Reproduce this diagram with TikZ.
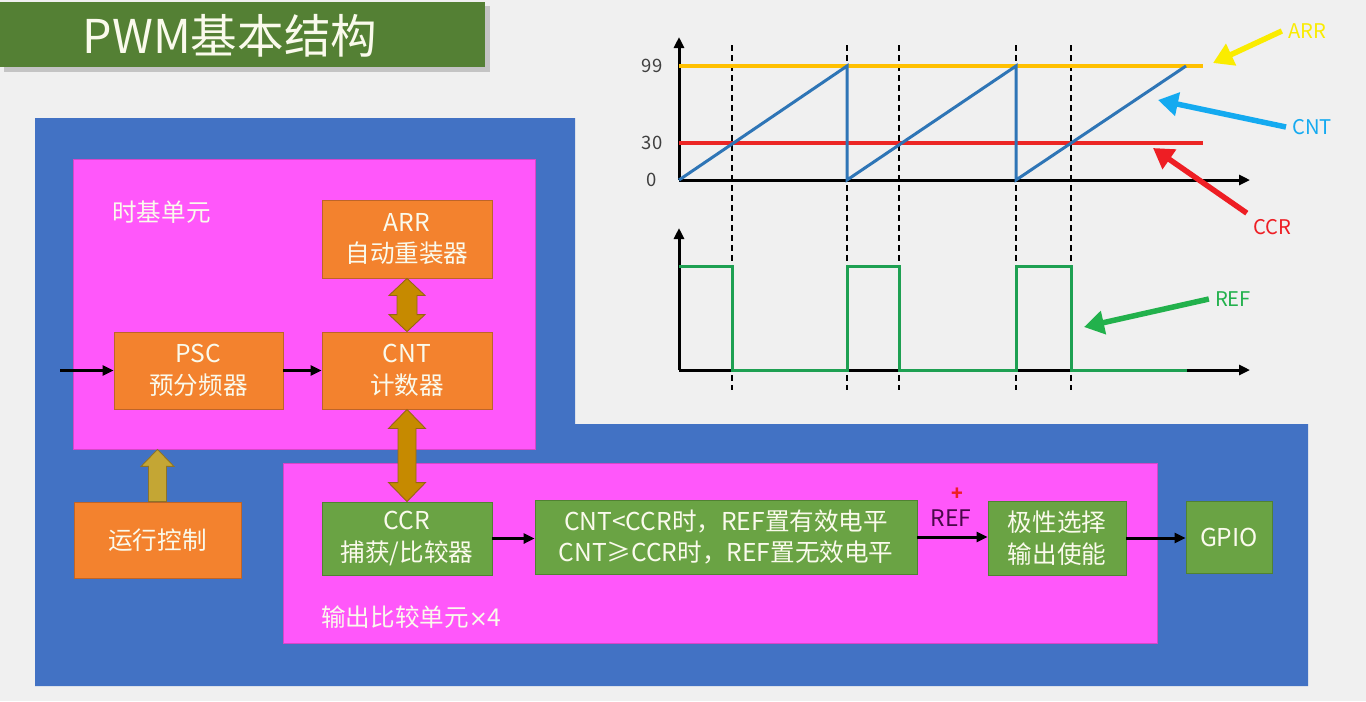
\documentclass[tikz,border=0pt]{standalone}
\usepackage{fontspec}
\setmainfont{Noto Sans CJK SC}
\newfontfamily\symfont{DejaVu Sans}
\usetikzlibrary{arrows.meta,calc}

\definecolor{bggray}{RGB}{240,240,240}
\definecolor{titlegreen}{RGB}{84,128,52}
\definecolor{outerblue}{RGB}{66,114,196}
\definecolor{unitpink}{RGB}{255,87,250}
\definecolor{unitline}{RGB}{215,70,200}
\definecolor{orangefill}{RGB}{243,130,46}
\definecolor{orangeline}{RGB}{190,100,40}
\definecolor{greenfill}{RGB}{106,163,68}
\definecolor{greenline}{RGB}{80,130,50}
\definecolor{boxtext}{RGB}{250,250,236}
\definecolor{fatbrown}{RGB}{198,138,0}
\definecolor{fatbrownline}{RGB}{150,100,20}
\definecolor{runolive}{RGB}{196,166,52}
\definecolor{runoliveline}{RGB}{140,115,40}
\definecolor{arrcolor}{RGB}{255,192,0}
\definecolor{ccrcolor}{RGB}{236,38,36}
\definecolor{cntcolor}{RGB}{46,117,182}
\definecolor{refcolor}{RGB}{30,160,82}
\definecolor{arrnote}{RGB}{250,236,0}
\definecolor{cntnote}{RGB}{20,170,240}
\definecolor{ccrnote}{RGB}{238,30,36}
\definecolor{refnote}{RGB}{34,177,76}
\definecolor{refpurple}{RGB}{72,8,72}
\definecolor{labelgray}{RGB}{64,64,64}

\tikzset{
  obox/.style={draw=orangeline, fill=orangefill, text=boxtext, align=center,
    font=\fontsize{14}{18}\selectfont, line width=0.5pt},
  gbox/.style={draw=greenline, fill=greenfill, text=boxtext, align=center,
    font=\fontsize{14}{18}\selectfont, line width=0.5pt},
  unit/.style={draw=unitline, fill=unitpink, line width=0.5pt},
  unitlabel/.style={anchor=west, text=boxtext, font=\fontsize{14}{17}\selectfont},
  link/.style={-{Triangle[length=0.22cm,width=0.2cm]}, line width=0.06cm},
  axis/.style={-{Triangle[length=0.22cm,width=0.2cm]}, line width=0.06cm},
  guide/.style={dashed, line width=0.03cm, dash pattern=on 0.12cm off 0.08cm},
  annot/.style={-{Triangle[length=0.4cm,width=0.46cm]}, line width=0.11cm},
  notelabel/.style={font=\fontsize{11.5}{13}\selectfont},
  ticklabel/.style={font=\fontsize{10.5}{12}\selectfont, text=labelgray},
}

\begin{document}
\begin{tikzpicture}[x=0.02cm, y=-0.02cm]
  \useasboundingbox (0,0) rectangle (1366,701);
  \fill[bggray] (0,0) rectangle (1366,701);

  % title
  \fill[black, opacity=0.18] (4,6) rectangle (490,72);
  \fill[titlegreen] (0,2) rectangle (485,67);
  \node[text=boxtext, font=\fontsize{26.5}{30}\selectfont] (title) at (230,36) {PWM基本结构};

  % outer block
  \fill[outerblue] (35,118) -- (575,118) -- (575,424) -- (1308,424)
    -- (1308,686) -- (35,686) -- cycle;

  % units
  \node[unit, minimum width=9.24cm, minimum height=5.8cm] (tbunit) at (304,304) {};
  \node[unit, minimum width=17.5cm, minimum height=3.6cm] (ocunit) at (720.5,553) {};
  \node[unitlabel] (tblabel) at (106,212) {时基单元};
  \node[unitlabel] (oclabel) at (315,617) {输出比较单元{\symfont\fontsize{13}{17}\selectfont ×}4};

  % blocks
  \node[obox, minimum width=3.4cm, minimum height=1.56cm] (arr) at (407,239) {ARR\\自动重装器};
  \node[obox, minimum width=3.38cm, minimum height=1.54cm] (psc) at (198.5,370.5) {PSC\\预分频器};
  \node[obox, minimum width=3.4cm, minimum height=1.54cm] (cnt) at (407,370.5) {CNT\\计数器};
  \node[obox, minimum width=3.34cm, minimum height=1.52cm] (run) at (157.5,540) {运行控制};
  \node[gbox, minimum width=3.4cm, minimum height=1.46cm] (ccr) at (407,538.5) {CCR\\捕获/比较器};
  \node[gbox, minimum width=7.64cm, minimum height=1.48cm] (cond) at (726,537)
    {CNT<CCR时，REF置有效电平\\CNT≥CCR时，REF置无效电平};
  \node[gbox, minimum width=2.76cm, minimum height=1.48cm] (pol) at (1057,538) {极性选择\\输出使能};
  \node[gbox, minimum width=1.72cm, minimum height=1.44cm] (gpio) at (1229,537) {GPIO};

  % connections
  \coordinate (clkin) at (60,370.5);
  \draw[link] (clkin) -- (psc.west);
  \draw[link] (psc) -- (cnt);
  \draw[link] (ccr.east) -- (ccr.east -| cond.west);
  \draw[link] (cond.east) -- (cond.east -| pol.west);
  \draw[link] (pol.east) -- (pol.east -| gpio.west);
  \node[text=refpurple, font=\fontsize{13}{15}\selectfont] (reflbl) at (951,518) {REF};
  \node[text=ccrnote, font=\fontsize{11}{13}\selectfont\bfseries] (plus) at (957,494) {+};

  \filldraw[fill=fatbrown, draw=fatbrownline, line width=0.5pt]
    (arr.south) -- ++(18,17) -- ++(-8,0) -- ($(cnt.north)+(10,-17)$) -- ++(8,0)
    -- (cnt.north) -- ++(-18,-17) -- ++(8,0) -- ($(arr.south)+(-10,17)$) -- ++(-8,0) -- cycle;
  \filldraw[fill=fatbrown, draw=fatbrownline, line width=0.5pt]
    (cnt.south) -- ++(18.5,19) -- ++(-9.5,0) -- ($(ccr.north)+(9,-19)$) -- ++(9.5,0)
    -- (ccr.north) -- ++(-18.5,-19) -- ++(9.5,0) -- ($(cnt.south)+(-9,19)$) -- ++(-9.5,0) -- cycle;
  \filldraw[fill=runolive, draw=runoliveline, line width=0.5pt]
    ($(run.north)+(-9,0)$) -- ++(18,0) -- ($(run.north |- tbunit.south)+(9,17)$) -- ++(7.5,0)
    -- (run.north |- tbunit.south) -- ++(-16.5,17) -- ++(7.5,0) -- cycle;

  % timing
  \foreach \t in {732,847,899,1016,1071}
    \draw[guide] (\t,45) -- (\t,390);
  \draw[axis] (679,180) -- (1250,180);
  \draw[axis] (679,180) -- (679,37);
  \draw[axis] (679,370) -- (1250,370);
  \draw[axis] (679,370) -- (679,228);
  \draw[arrcolor, line width=0.08cm] (679,66) -- (1203,66);
  \draw[ccrcolor, line width=0.08cm] (679,143) -- (1203,143);
  \draw[cntcolor, line width=0.06cm] (679,180) -- (847,66) -- (847,180) -- (1016,66)
    -- (1016,180) -- (1186,66);
  \draw[refcolor, line width=0.06cm] (679,266) -- (732,266) -- (732,370) -- (847,370)
    -- (847,266) -- (899,266) -- (899,370) -- (1016,370) -- (1016,266) -- (1071,266)
    -- (1071,370) -- (1187,370);
  \node[ticklabel] (t99) at (652,66) {99};
  \node[ticklabel] (t30) at (652,143) {30};
  \node[ticklabel] (t0) at (652,180) {0};

  % notes
  \node[notelabel, text=arrnote] (arrlab) at (1307,31) {ARR};
  \node[notelabel, text=cntnote] (cntlab) at (1312,127) {CNT};
  \node[notelabel, text=ccrnote] (ccrlab) at (1272,227) {CCR};
  \node[notelabel, text=refnote] (reflab) at (1233,299) {REF};
  \coordinate (arrtip) at (1213,63);
  \coordinate (cnttip) at (1158,100);
  \coordinate (ccrtip) at (1153,148);
  \coordinate (reftip) at (1084,327);
  \draw[annot, arrnote] (arrlab.west) -- (arrtip);
  \draw[annot, cntnote] (cntlab.west) -- (cnttip);
  \draw[annot, ccrnote] (ccrlab.north west) -- (ccrtip);
  \draw[annot, refnote] (reflab.west) -- (reftip);
\end{tikzpicture}
\end{document}
